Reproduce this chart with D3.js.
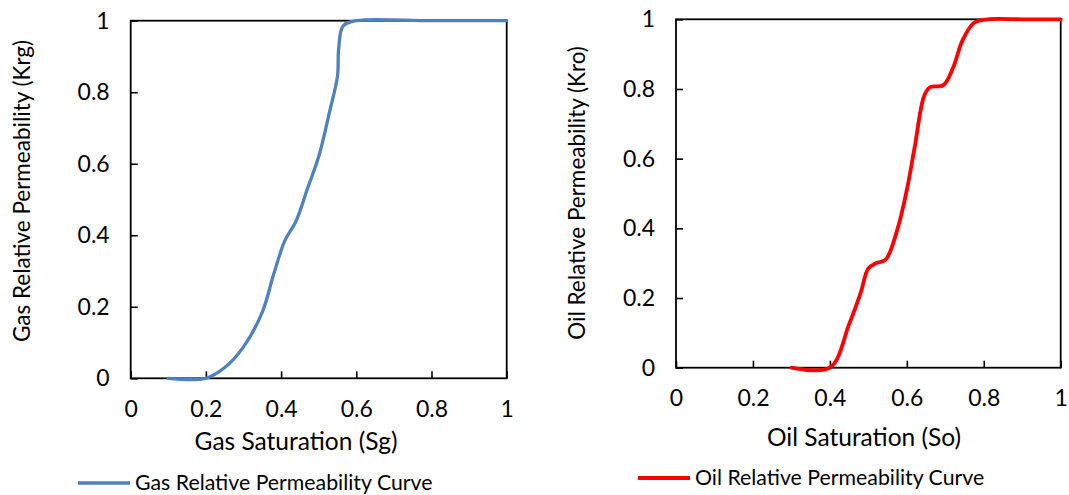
<!DOCTYPE html>
<html>
<head>
<meta charset="utf-8">
<script src="https://cdn.jsdelivr.net/npm/d3@7"></script>
<style>
  body { margin: 0; background: #fff; }
  text { font-family: Lato, "Open Sans", sans-serif; fill: #000; }
</style>
</head>
<body>
<div id="chart"></div>
<script>
// data
const gasSat = [0.1, 0.2, 0.25, 0.3, 0.35, 0.38, 0.41, 0.44, 0.47, 0.5, 0.53, 0.55, 0.553, 0.565, 0.6, 0.8, 1.0]
const gasKr  = [0, 0, 0.03, 0.088, 0.185, 0.29, 0.385, 0.44, 0.53, 0.62, 0.75, 0.845, 0.92, 0.985, 1, 1, 1]

const oilSat = [0.3, 0.4, 0.45, 0.48, 0.5, 0.52, 0.545, 0.575, 0.6, 0.62, 0.645, 0.66, 0.695, 0.72, 0.745, 0.775, 0.81, 0.9, 1.0]
const oilKr  = [0, 0, 0.125, 0.215, 0.285, 0.30, 0.31, 0.395, 0.51, 0.63, 0.78, 0.805, 0.811, 0.86, 0.94, 0.99, 1, 1, 1]

const ticks = [0, 0.2, 0.4, 0.6, 0.8, 1]

const W = 1069, H = 495

const svg = d3.select("#chart").append("svg")
  .attr("width", W)
  .attr("height", H)

// one panel = frame, axes, curve, titles, legend
function panel(opts) {
  const x = d3.scaleLinear().domain([0, 1]).range([opts.left, opts.right])
  const y = d3.scaleLinear().domain([0, 1]).range([opts.bottom, opts.top])
  const g = svg.append("g")

  const fmt = d => d === 0 || d === 1 ? d3.format("d")(d) : d3.format(".1f")(d)

  g.append("g")
    .attr("transform", "translate(0," + opts.bottom + ")")
    .call(d3.axisBottom(x).tickValues(ticks).tickSizeInner(-7).tickSizeOuter(0).tickPadding(22).tickFormat(fmt))
  g.append("g")
    .attr("transform", "translate(" + opts.left + ",0)")
    .call(d3.axisLeft(y).tickValues(ticks).tickSizeInner(-7).tickSizeOuter(0).tickPadding(21).tickFormat(fmt))

  g.selectAll(".domain").remove()
  g.selectAll(".tick line").attr("stroke", "#000").attr("stroke-width", 1.6)
  g.selectAll(".tick text").style("font-size", "23px").attr("fill", "#000")

  // box
  g.append("rect")
    .attr("x", opts.left).attr("y", opts.top)
    .attr("width", opts.right - opts.left).attr("height", opts.bottom - opts.top)
    .attr("fill", "none").attr("stroke", "#000").attr("stroke-width", 1.8)

  const line = d3.line()
    .x(i => x(opts.xs[i]))
    .y(i => y(opts.ys[i]))
    .curve(d3.curveCatmullRom.alpha(0.5))

  g.append("path")
    .attr("d", line(d3.range(opts.xs.length)))
    .attr("fill", "none")
    .attr("stroke", opts.color)
    .attr("stroke-width", opts.width)
    .attr("stroke-linecap", "round")

  // axis titles
  g.append("text")
    .attr("x", opts.xTitleX).attr("y", opts.xTitleY)
    .attr("text-anchor", "middle")
    .style("font-size", "24.5px")
    .text(opts.xTitle)

  g.append("text")
    .attr("transform", "translate(" + opts.yTitleX + "," + opts.yTitleY + ") rotate(-90)")
    .attr("text-anchor", "middle")
    .style("font-size", "22.5px")
    .text(opts.yTitle)

  // legend
  g.append("line")
    .attr("x1", opts.legX).attr("x2", opts.legX + 52)
    .attr("y1", opts.legY).attr("y2", opts.legY)
    .attr("stroke", opts.color).attr("stroke-width", opts.width)
  g.append("text")
    .attr("x", opts.legX + 57).attr("y", opts.legY + 7)
    .style("font-size", "21.3px")
    .text(opts.legend)
}

panel({
  left: 130.7, right: 506.7, top: 20.7, bottom: 378.3,
  xs: gasSat, ys: gasKr, color: "#4f81bd", width: 3.3,
  xTitle: "Gas Saturation (Sg)", xTitleX: 296, xTitleY: 450,
  yTitle: "Gas Relative Permeability (Krg)", yTitleX: 30, yTitleY: 191,
  legend: "Gas Relative Permeability Curve", legX: 78, legY: 483
})

panel({
  left: 676, right: 1060.7, top: 19.3, bottom: 367.7,
  xs: oilSat, ys: oilKr, color: "#ff0000", width: 3.8,
  xTitle: "Oil Saturation (So)", xTitleX: 864, xTitleY: 446,
  yTitle: "Oil Relative Permeability (Kro)", yTitleX: 585, yTitleY: 193,
  legend: "Oil Relative Permeability Curve", legX: 638, legY: 478
})
</script>
</body>
</html>
